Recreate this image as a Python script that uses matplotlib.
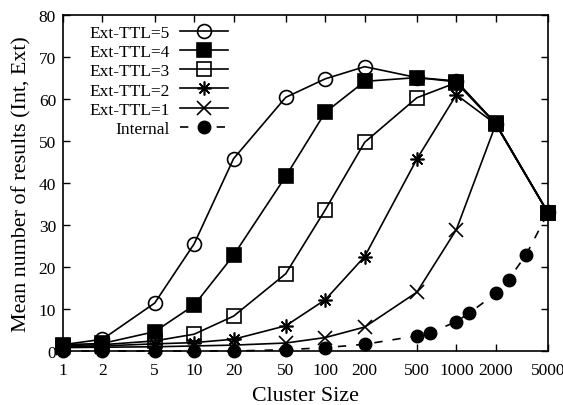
import matplotlib
matplotlib.use("Agg")
import matplotlib.pyplot as plt
from matplotlib.ticker import FixedLocator, FixedFormatter, NullLocator

plt.rcParams['font.family'] = ['Liberation Serif', 'DejaVu Serif']

cluster = [1, 2, 5, 10, 20, 50, 100, 200, 500, 1000, 2000, 5000]
ttl5 = [1.5, 2.8, 11.4, 25.5, 45.8, 60.4, 64.8, 67.7, 65.1, 64.3, 54.1, 33.0]
ttl4 = [1.5, 1.8, 4.6, 10.9, 22.8, 41.6, 56.8, 64.2, 65.1, 64.1, 54.2, 32.9]
ttl3 = [1.3, 1.5, 2.4, 4.0, 8.3, 18.4, 33.6, 49.7, 60.3, 63.9, 54.0, 32.9]
ttl2 = [1.0, 1.2, 1.7, 2.0, 2.8, 6.0, 12.2, 22.5, 45.7, 61.0, 54.0, 32.9]
ttl1 = [0.8, 0.9, 1.0, 1.2, 1.4, 1.9, 3.2, 5.7, 14.0, 28.9, 54.0, 32.9]

internal_x = [1, 2, 5, 10, 20, 50, 100, 200, 500, 630, 1000, 1250, 2000, 2500, 3400, 5000]
internal_y = [0.0, 0.0, 0.0, 0.0, 0.0, 0.3, 0.8, 1.6, 3.6, 4.3, 7.0, 9.0, 13.7, 17.0, 22.9, 32.9]

xticks = [1, 2, 5, 10, 20, 50, 100, 200, 500, 1000, 2000, 5000]
xticklabels = ['1', '2', '5', '10', '20', '50', '100', '200', '500', '1000', '2000', '5000']
yticks = [0, 10, 20, 30, 40, 50, 60, 70, 80]

fig = plt.figure(figsize=(5.63, 4.06), dpi=100)
ax = fig.add_axes([63/563, (406-352)/406, (548-63)/563, (352-16)/406])

lw = 1.2
ms = 10
ax.plot(internal_x, internal_y, color='black', lw=lw, linestyle=(0, (5, 6)),
        marker='o', ms=9, markerfacecolor='black', label='Internal', clip_on=False, zorder=2)
ax.plot(cluster, ttl1, color='black', lw=lw, marker='x', ms=ms, mew=1.2,
        label='Ext-TTL=1', clip_on=False, zorder=3)
ax.plot(cluster, ttl2, color='black', lw=lw, marker=(8, 2, 0), ms=ms, mew=1.2,
        label='Ext-TTL=2', clip_on=False, zorder=3)
ax.plot(cluster, ttl3, color='black', lw=lw, marker='s', ms=ms - 0.5, mew=1.2,
        markerfacecolor='none', label='Ext-TTL=3', clip_on=False, zorder=3)
ax.plot(cluster, ttl5, color='black', lw=lw, marker='o', ms=ms, mew=1.2,
        markerfacecolor='none', label='Ext-TTL=5', clip_on=False, zorder=3)
ax.plot(cluster, ttl4, color='black', lw=lw, marker='s', ms=ms - 0.5, mew=1.2,
        markerfacecolor='black', label='Ext-TTL=4', clip_on=False, zorder=4)

ax.set_xscale('log')
ax.set_xlim(1, 5000)
ax.set_ylim(0, 80)
ax.xaxis.set_major_locator(FixedLocator(xticks))
ax.xaxis.set_major_formatter(FixedFormatter(xticklabels))
ax.xaxis.set_minor_locator(NullLocator())
ax.set_yticks(yticks)
ax.tick_params(axis='both', which='major', direction='in', length=5, width=1,
               top=True, right=True, labelsize=12.5)
ax.tick_params(axis='x', pad=8)
ax.tick_params(axis='y', pad=5)
for s in ax.spines.values():
    s.set_linewidth(1.2)

ax.set_xlabel('Cluster Size', fontsize=15.8, labelpad=6)
ax.set_ylabel('Mean number of results (Int, Ext)', fontsize=15.8, labelpad=5)

handles, labels = ax.get_legend_handles_labels()
order = ['Ext-TTL=5', 'Ext-TTL=4', 'Ext-TTL=3', 'Ext-TTL=2', 'Ext-TTL=1', 'Internal']
hd = dict(zip(labels, handles))
ax.legend([hd[k] for k in order], order, loc='upper right', bbox_to_anchor=(0.340, 0.970),
          frameon=False, markerfirst=False, fontsize=12.5, handlelength=2.75,
          handletextpad=0.6, labelspacing=0.17, borderpad=0.0, borderaxespad=0.0)

fig.savefig('out.png', dpi=100)
